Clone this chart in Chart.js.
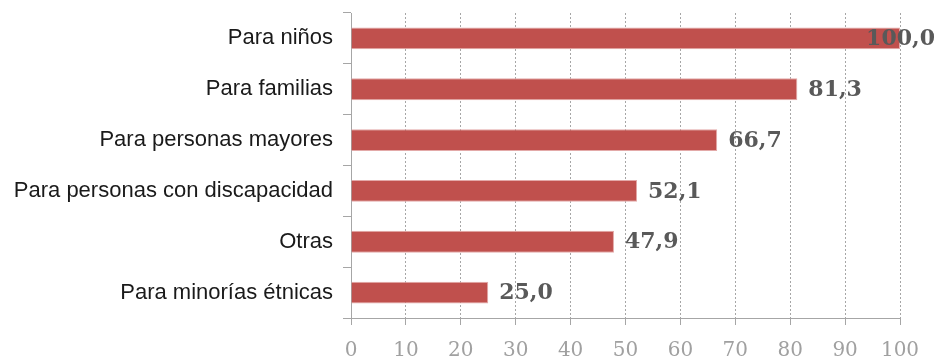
<!DOCTYPE html>
<html>
<head>
<meta charset="utf-8">
<script src="https://cdn.jsdelivr.net/npm/chart.js@4/dist/chart.umd.min.js"></script>
<style>
  html, body { margin: 0; padding: 0; background: #fff; }
  #wrap { width: 937px; height: 356px; }
</style>
</head>
<body>
<div id="wrap"><canvas id="myChart" width="937" height="356"></canvas></div>
<script>
const categories = ['Para niños', 'Para familias', 'Para personas mayores', 'Para personas con discapacidad', 'Otras', 'Para minorías étnicas'];
const values = [100.0, 81.3, 66.7, 52.1, 47.9, 25.0];
const xTicks = [0, 10, 20, 30, 40, 50, 60, 70, 80, 90, 100];

const axisGray = '#a6a6a6';

// value labels to the right of each bar, kept inside the canvas
const valueLabels = {
  id: 'valueLabels',
  afterDatasetsDraw(chart) {
    const ctx = chart.ctx;
    const meta = chart.getDatasetMeta(0);
    ctx.save();
    ctx.font = 'bold 22px "DejaVu Serif"';
    ctx.fillStyle = '#595959';
    ctx.textBaseline = 'middle';
    meta.data.forEach((bar, i) => {
      const txt = values[i].toFixed(1).replace('.', ',');
      const w = ctx.measureText(txt).width;
      let x = bar.x + 11;
      if (x + w > chart.width - 2) x = chart.width - 2 - w;
      ctx.fillText(txt, x, bar.y + 1);
    });
    ctx.restore();
  }
};

new Chart(document.getElementById('myChart'), {
  type: 'bar',
  data: {
    labels: categories,
    datasets: [{
      data: values,
      backgroundColor: '#c0504d',
      borderColor: '#e3a9a8',
      borderWidth: 1,
      categoryPercentage: 1,
      barPercentage: 0.43
    }]
  },
  options: {
    indexAxis: 'y',
    responsive: false,
    animation: false,
    layout: { padding: { top: 13, right: 37, left: 0, bottom: 0 } },
    plugins: {
      legend: { display: false },
      tooltip: { enabled: false }
    },
    scales: {
      x: {
        min: 0,
        max: 100,
        afterBuildTicks: (scale) => { scale.ticks = xTicks.map(v => ({ value: v })); },
        afterFit: (scale) => { scale.height = 38; },
        grid: {
          color: axisGray,
          lineWidth: 1,
          drawTicks: true,
          tickLength: 7,
          tickColor: axisGray,
          tickBorderDash: []
        },
        border: { display: true, color: axisGray, width: 1, dash: [2, 2] },
        ticks: {
          color: '#a0a0a0',
          font: { family: '"DejaVu Serif"', size: 20 },
          padding: 14,
          maxRotation: 0
        }
      },
      y: {
        afterFit: (scale) => {
          scale.width = 351;
          scale.paddingTop = 0;
          scale.paddingBottom = 0;
        },
        grid: {
          offset: true,
          drawOnChartArea: false,
          drawTicks: true,
          tickLength: 8,
          tickColor: axisGray
        },
        border: { display: true, color: axisGray, width: 1 },
        ticks: {
          color: '#1a1a1a',
          font: { family: '"Liberation Sans"', size: 22 },
          padding: 10
        }
      }
    }
  },
  plugins: [valueLabels]
});
</script>
</body>
</html>
